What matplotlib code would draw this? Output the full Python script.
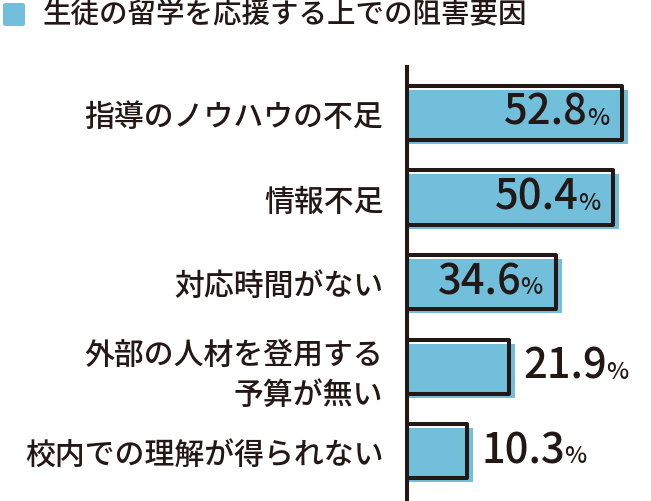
import numpy as np
import matplotlib
matplotlib.use("Agg")
import matplotlib.pyplot as plt
from matplotlib.patches import FancyBboxPatch
import matplotlib.transforms as mtransforms

plt.rcParams['font.family'] = ['Noto Sans CJK JP', 'DejaVu Sans']
plt.rcParams['font.weight'] = 'medium'

# ---- data ----
title = "生徒の留学を応援する上での阻害要因"
categories = ["指導のノウハウの不足", "情報不足", "対応時間がない",
              "外部の人材を登用する\n予算が無い", "校内での理解が得られない"]
values = np.array([52.8, 50.4, 34.6, 21.9, 10.3])
value_labels = ["52.8", "50.4", "34.6", "21.9", "10.3"]

# ---- style ----
BLUE = "#72BFDC"
DARK = "#231815"
BASE = 6.14          # visual zero offset of bars (value units)
SHADOW_X = 1.6       # shadow overhang (value units)
W, H = 651, 502

fig = plt.figure(figsize=(W / 100, H / 100), dpi=100)
ax = fig.add_axes([407 / W, 0, 244 / W, 434 / H])

y = np.arange(len(values))
bh = 0.64

shadow = ax.barh(y, values + BASE + SHADOW_X, left=-BASE, height=bh,
                 color=BLUE, linewidth=0, zorder=1)
off = mtransforms.ScaledTranslation(0, -4 / 100, fig.dpi_scale_trans)
for p in shadow.patches:
    p.set_transform(ax.transData + off)

ax.barh(y, values + BASE, left=-BASE, height=bh, fill=False,
        edgecolor=DARK, linewidth=2.9, joinstyle='round', zorder=2)

ax.set_xlim(-BASE, -BASE + 244 / 3.65)
ax.set_ylim(4.59, -0.544)

for s in ['top', 'right', 'bottom']:
    ax.spines[s].set_visible(False)
ax.spines['left'].set_linewidth(2.9)
ax.spines['left'].set_color(DARK)
ax.spines['left'].set_zorder(3)
ax.set_xticks([])
ax.set_yticks(y, categories)
ax.tick_params(axis='y', length=0, pad=17, labelsize=21.5, labelcolor=DARK)
for lab in ax.get_yticklabels():
    lab.set_linespacing(1.35)

# value labels
fig.canvas.draw()
renderer = fig.canvas.get_renderer()
for i, (v, t) in enumerate(zip(values, value_labels)):
    inside = v > 30
    if inside:
        pct = ax.annotate("%", xy=(v, i), xytext=(-13, -11), textcoords='offset pixels',
                          ha='right', va='baseline', fontsize=17, color=DARK, zorder=4)
        pw = pct.get_window_extent(renderer).width
        ax.annotate(t, xy=(v, i), xytext=(-13 - pw + 1, -11), textcoords='offset pixels',
                    ha='right', va='baseline', fontsize=30, color=DARK, zorder=4)
    else:
        num = ax.annotate(t, xy=(v, i), xytext=(14, -11), textcoords='offset pixels',
                          ha='left', va='baseline', fontsize=30, color=DARK, zorder=4,
                          annotation_clip=False)
        nw = num.get_window_extent(renderer).width
        ax.annotate("%", xy=(v, i), xytext=(14 + nw - 1, -11), textcoords='offset pixels',
                    ha='left', va='baseline', fontsize=17, color=DARK, zorder=4,
                    annotation_clip=False)

# title with legend square
sq = FancyBboxPatch((3 / W, 1 - 27 / H), 22 / W, 23 / H,
                    boxstyle="round,pad=0,rounding_size=0.004",
                    transform=fig.transFigure, facecolor=BLUE, edgecolor='none')
fig.patches.append(sq)
fig.text(43 / W, 1 - 15 / H, title, ha='left', va='center', fontsize=20.5, color=DARK)

fig.savefig("out.png", dpi=100)
